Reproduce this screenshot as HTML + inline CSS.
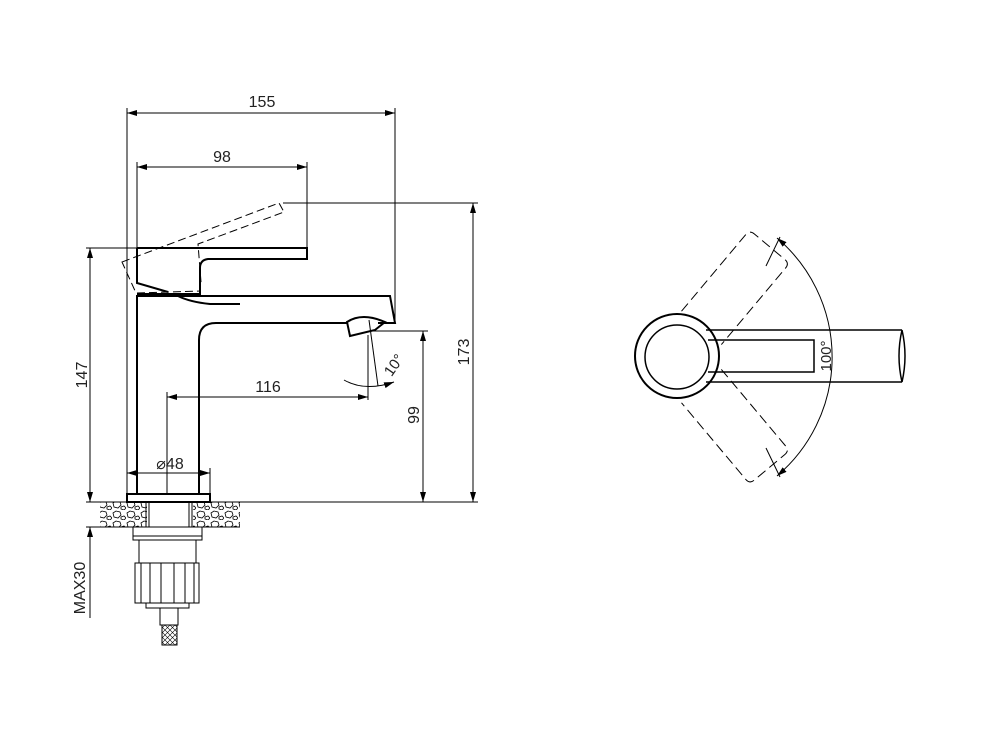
<!DOCTYPE html>
<html><head><meta charset="utf-8"><style>
html,body{margin:0;padding:0;background:#fff;}
svg{display:block;}
text{font-family:"Liberation Sans",sans-serif;fill:#222;}
</style></head><body>
<svg width="1000" height="750" viewBox="0 0 1000 750" xmlns="http://www.w3.org/2000/svg">
<defs>
<marker id="a" viewBox="0 0 10 6" refX="10" refY="3" markerWidth="10" markerHeight="6" orient="auto-start-reverse" markerUnits="userSpaceOnUse"><path d="M0,0 L10,3 L0,6 z" fill="#000"/></marker>
<pattern id="g" width="14" height="10" patternUnits="userSpaceOnUse"><path d="M1,3 l3,-2 4,1 1,3 -3,3 -4,-1z M9,7 l3,-1 2,2 -2,2 -3,-1z" fill="none" stroke="#000" stroke-width="0.8"/></pattern>
<pattern id="b" width="5" height="5" patternUnits="userSpaceOnUse"><path d="M0,5 L5,0 M0,0 L5,5" stroke="#000" stroke-width="0.6"/></pattern>
</defs>
<g fill="none" stroke="#000" stroke-width="1">
<line x1="127" y1="108" x2="127" y2="494"/>
<line x1="395" y1="108" x2="395" y2="322"/>
<line x1="137" y1="162" x2="137" y2="248"/>
<line x1="307" y1="162" x2="307" y2="250"/>
<line x1="86" y1="248" x2="137" y2="248"/>
<line x1="283" y1="203" x2="478" y2="203"/>
<line x1="370" y1="331" x2="428" y2="331"/>
<line x1="86" y1="502" x2="478" y2="502"/>
<line x1="86" y1="527" x2="100" y2="527"/>
<line x1="167" y1="392" x2="167" y2="494"/>
<line x1="368" y1="335" x2="368" y2="400"/>
<line x1="210" y1="468" x2="210" y2="494"/>
<line x1="127" y1="113" x2="395" y2="113" marker-start="url(#a)" marker-end="url(#a)"/>
<line x1="137" y1="167" x2="307" y2="167" marker-start="url(#a)" marker-end="url(#a)"/>
<line x1="473" y1="203" x2="473" y2="502" marker-start="url(#a)" marker-end="url(#a)"/>
<line x1="90" y1="248" x2="90" y2="502" marker-start="url(#a)" marker-end="url(#a)"/>
<line x1="423" y1="331" x2="423" y2="502" marker-start="url(#a)" marker-end="url(#a)"/>
<line x1="167" y1="397" x2="368" y2="397" marker-start="url(#a)" marker-end="url(#a)"/>
<line x1="127" y1="473" x2="210" y2="473" marker-start="url(#a)" marker-end="url(#a)"/>
<line x1="90" y1="527" x2="90" y2="618" marker-start="url(#a)"/>
<line x1="369" y1="320" x2="378" y2="386"/>
<path d="M344,380 Q365,392 394,382" marker-end="url(#a)"/>
<g stroke-width="2">
<line x1="137" y1="295" x2="137" y2="494"/>
<path d="M199,494 V340 Q199,323 216,323 H347"/>
<path d="M137,296 H390 L395,323 H378"/>
<path d="M347,322 Q362,312 385,322 L375,330 L350,336 Z"/>
<rect x="127" y="494" width="83" height="8"/>
<path d="M137,248 H307 V259 H208 Q200,260 200,268 V294 H137"/>
<path d="M137,248 V283 L168,292"/>
<path d="M178,296 Q190,302 210,304 H240"/>
</g>
<path d="M122,262 L279,203 L284,212 L252,224 L198,244 L201,282 L200,291 L136,293 Z" stroke-dasharray="8,4"/>
<rect x="100" y="502" width="47" height="25" fill="url(#g)" stroke="none"/>
<rect x="193" y="502" width="47" height="25" fill="url(#g)" stroke="none"/>
<line x1="100" y1="527" x2="240" y2="527"/>
<line x1="146" y1="502" x2="146" y2="527"/><line x1="149" y1="502" x2="149" y2="527"/>
<line x1="189" y1="502" x2="189" y2="527"/><line x1="192" y1="502" x2="192" y2="527"/>
<rect x="133" y="527" width="69" height="13"/>
<line x1="133" y1="536" x2="202" y2="536"/>
<line x1="139" y1="540" x2="139" y2="563"/><line x1="196" y1="540" x2="196" y2="563"/>
<rect x="135" y="563" width="64" height="40"/>
<line x1="141" y1="563" x2="141" y2="603"/><line x1="150" y1="563" x2="150" y2="603"/>
<line x1="161" y1="563" x2="161" y2="603"/><line x1="174" y1="563" x2="174" y2="603"/>
<line x1="185" y1="563" x2="185" y2="603"/><line x1="194" y1="563" x2="194" y2="603"/>
<rect x="146" y="603" width="43" height="5"/>
<rect x="160" y="608" width="18" height="17"/>
<rect x="162" y="625" width="15" height="20" fill="url(#b)"/>
<circle cx="677" cy="356" r="42" stroke-width="2"/>
<circle cx="677" cy="357" r="32" stroke-width="1.5" fill="#fff"/>
<path d="M706,330 H902 M706,382 H902" stroke-width="1.5"/>
<path d="M902,330 Q908,356 902,382 Q896,356 902,330" stroke-width="1.5"/>
<path d="M708,340 H814 V372 H708" stroke-width="1.5"/>
<g transform="translate(677,357) rotate(-50)" stroke-dasharray="10,5">
<path d="M38,-26 H138 Q144,-26 144,-20 V20 Q144,26 138,26 H38"/>
</g>
<g transform="translate(677,357) rotate(50)" stroke-dasharray="10,5">
<path d="M38,-26 H138 Q144,-26 144,-20 V20 Q144,26 138,26 H38"/>
</g>
<line x1="766" y1="266" x2="780" y2="237"/>
<line x1="766" y1="448" x2="780" y2="477"/>
<path d="M777,238 A156,156 0 0 1 777,476" marker-start="url(#a)" marker-end="url(#a)"/>
</g>
<text x="262" y="107" font-size="16" text-anchor="middle">155</text>
<text x="222" y="162" font-size="16" text-anchor="middle">98</text>
<text x="268" y="392" font-size="16" text-anchor="middle">116</text>
<text x="170" y="469" font-size="16" text-anchor="middle">⌀48</text>
<text transform="translate(469,352) rotate(-90)" font-size="16" text-anchor="middle">173</text>
<text transform="translate(87,375) rotate(-90)" font-size="16" text-anchor="middle">147</text>
<text transform="translate(419,415) rotate(-90)" font-size="16" text-anchor="middle">99</text>
<text transform="translate(85,588) rotate(-90)" font-size="16" text-anchor="middle">MAX30</text>
<text transform="translate(398,368) rotate(-55)" font-size="15" text-anchor="middle">10°</text>
<text transform="translate(831,356) rotate(-90)" font-size="15" text-anchor="middle">100°</text>
</svg>
</body></html>
